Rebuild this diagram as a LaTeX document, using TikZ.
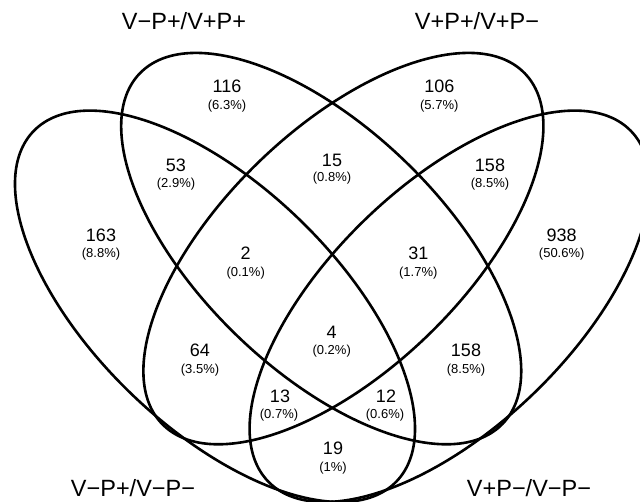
\documentclass[tikz,border=0pt]{standalone}
\usepackage{fontspec}
\setmainfont{Liberation Sans}
\begin{document}
\begin{tikzpicture}[x=1pt,y=-1pt,
  venn/.style={line width=2.6pt, draw=black},
  num/.style={font=\fontsize{18}{18}\selectfont, inner sep=0pt, anchor=center},
  pct/.style={font=\fontsize{13}{13}\selectfont, inner sep=0pt, anchor=center},
  catlab/.style={font=\fontsize{23.5}{23.5}\selectfont, inner sep=0pt, anchor=center}]
\useasboundingbox (0,0) rectangle (640,502);
% ellipses
\coordinate (cA) at (215,306.3);
\coordinate (cB) at (321.2,248.6);
\coordinate (cC) at (343.4,248.6);
\coordinate (cD) at (449.6,306.3);
\draw[venn, rotate around={-44:(cA)}] (cA) ellipse [x radius=252.2pt, y radius=121.1pt];
\draw[venn, rotate around={-44:(cB)}] (cB) ellipse [x radius=252.2pt, y radius=121.1pt];
\draw[venn, rotate around={44:(cC)}] (cC) ellipse [x radius=252.2pt, y radius=121.1pt];
\draw[venn, rotate around={44:(cD)}] (cD) ellipse [x radius=252.2pt, y radius=121.1pt];
% category labels
\node[catlab] (labB) at (184,21) {V−P+/V+P+};
\node[catlab] (labC) at (477,21) {V+P+/V+P−};
\node[catlab] (labA) at (133,488) {V−P+/V−P−};
\node[catlab] (labD) at (529,488) {V+P−/V−P−};
% counts
\node[num] (n116) at (227,86.7) {116};   \node[pct] (p116) at (227,106) {(6.3\%)};
\node[num] (n106) at (439.3,86.7) {106}; \node[pct] (p106) at (439.3,106) {(5.7\%)};
\node[num] (n53) at (176,165) {53};      \node[pct] (p53) at (176,184) {(2.9\%)};
\node[num] (n15) at (332,160) {15};      \node[pct] (p15) at (332,178) {(0.8\%)};
\node[num] (n158a) at (490,165) {158};   \node[pct] (p158a) at (490,184) {(8.5\%)};
\node[num] (n163) at (101,235) {163};    \node[pct] (p163) at (101,254.3) {(8.8\%)};
\node[num] (n938) at (561.7,235) {938};  \node[pct] (p938) at (561.7,254.3) {(50.6\%)};
\node[num] (n2) at (245.7,253.3) {2};    \node[pct] (p2) at (245.7,272.7) {(0.1\%)};
\node[num] (n31) at (418.3,253.3) {31};  \node[pct] (p31) at (418.3,272.7) {(1.7\%)};
\node[num] (n4) at (331.7,332.7) {4};    \node[pct] (p4) at (331.7,351.3) {(0.2\%)};
\node[num] (n64) at (200,350.7) {64};    \node[pct] (p64) at (200,370) {(3.5\%)};
\node[num] (n158b) at (466,350.7) {158}; \node[pct] (p158b) at (466,370) {(8.5\%)};
\node[num] (n13) at (280,396) {13};      \node[pct] (p13) at (279,415) {(0.7\%)};
\node[num] (n12) at (386,396) {12};      \node[pct] (p12) at (385,415) {(0.6\%)};
\node[num] (n19) at (333,448) {19};      \node[pct] (p19) at (333,467.7) {(1\%)};
\end{tikzpicture}
\end{document}
